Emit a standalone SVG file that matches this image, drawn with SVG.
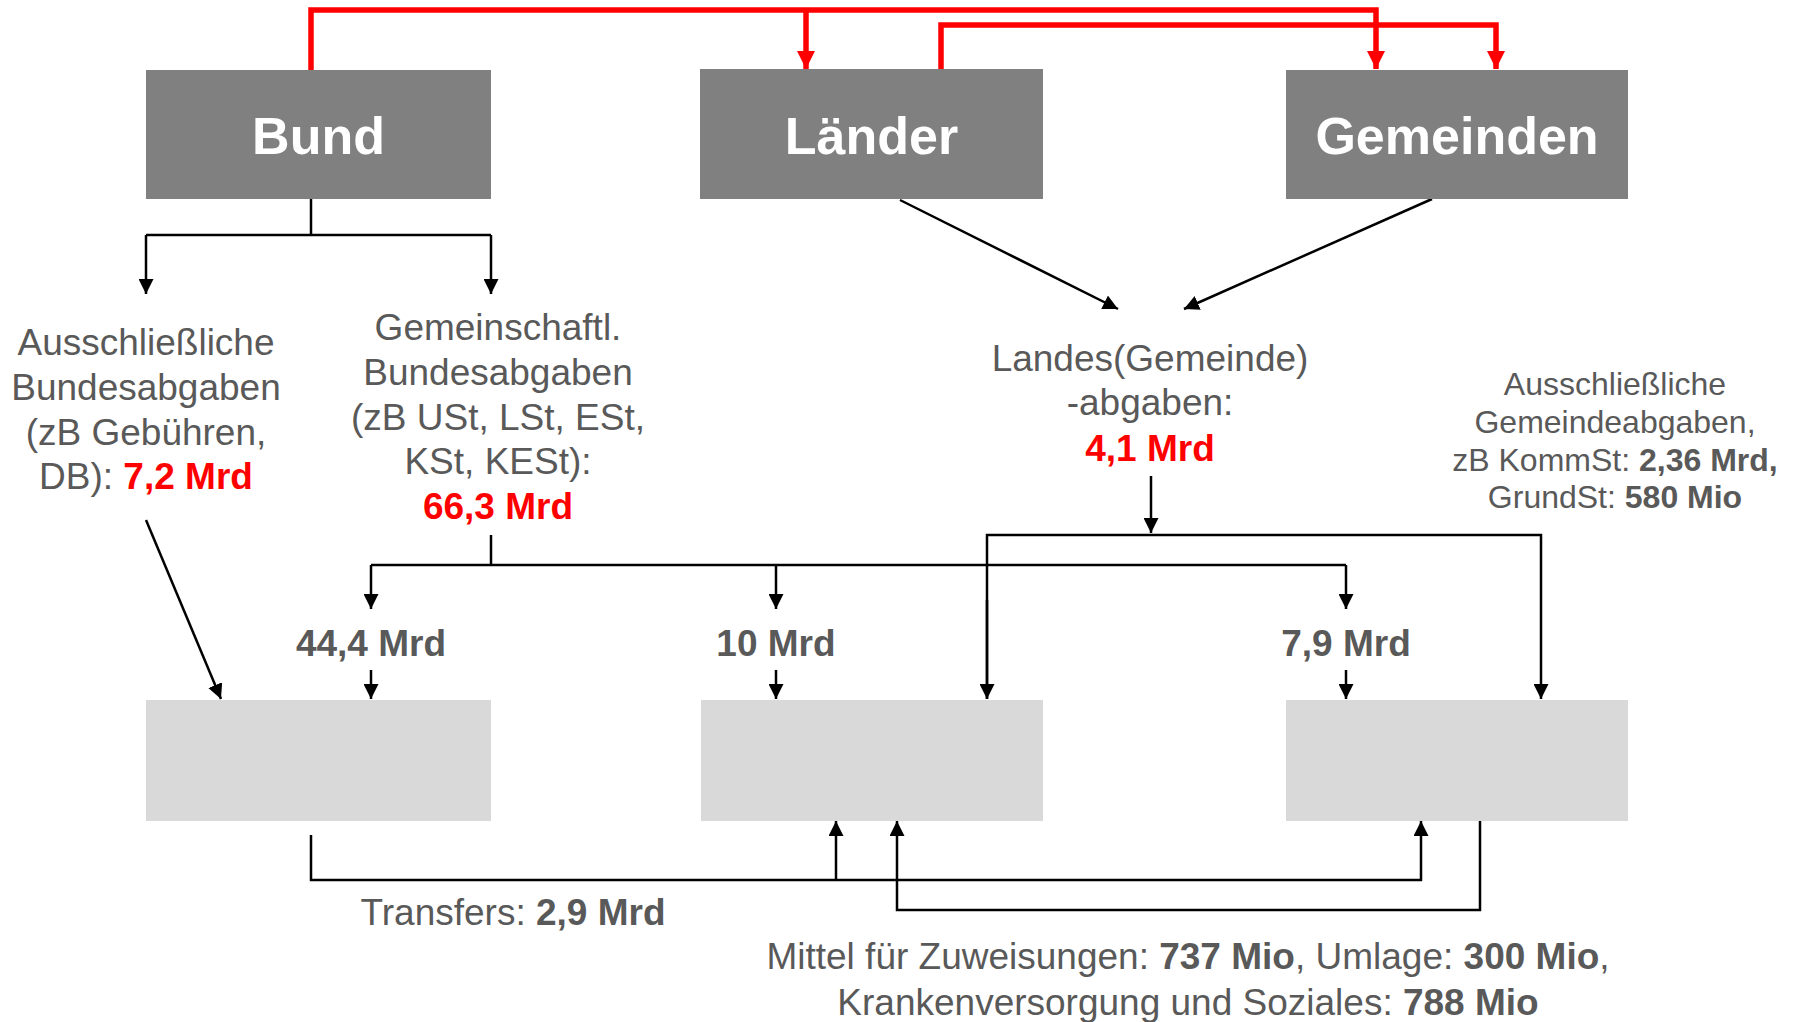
<svg xmlns="http://www.w3.org/2000/svg" width="1794" height="1022" viewBox="0 0 1794 1022">
  <style>
    .top { fill: #808080; }
    .sub { fill: #d9d9d9; }
    .title { font-family: "Liberation Sans", Arial, sans-serif; font-weight: bold; font-size: 52px; fill: #ffffff; text-anchor: middle; }
    .lbl { font-family: "Liberation Sans", Arial, sans-serif; font-size: 37px; fill: #595959; text-anchor: middle; }
    .sm { font-size: 32px; }
    .b { font-weight: bold; }
    .red { fill: #ff0000; font-weight: bold; }
    .amt { font-family: "Liberation Sans", Arial, sans-serif; font-size: 37px; font-weight: bold; fill: #595959; text-anchor: middle; }
    .ln { fill: none; stroke: #000000; stroke-width: 2.5; }
    .rl { fill: none; stroke: #ff0000; stroke-width: 5.5; }
  </style>
  <defs>
    <marker id="ah" markerUnits="userSpaceOnUse" markerWidth="15" markerHeight="15" refX="15" refY="7.5" orient="auto">
      <path d="M0,0 L15,7.5 L0,15 z" fill="#000000"/>
    </marker>
    <marker id="ahr" markerUnits="userSpaceOnUse" markerWidth="18" markerHeight="18" refX="18" refY="9" orient="auto">
      <path d="M0,0 L18,9 L0,18 z" fill="#ff0000"/>
    </marker>
  </defs>
  <rect width="1794" height="1022" fill="#ffffff"/>

  <!-- connectors -->
  <g id="connectors">
    <!-- red flows along the top -->
    <polyline class="rl" points="311,70 311,10 1376,10 1376,69" marker-end="url(#ahr)"/>
    <line class="rl" x1="806" y1="10" x2="806" y2="69" marker-end="url(#ahr)"/>
    <polyline class="rl" points="941,70 941,25 1496,25 1496,69" marker-end="url(#ahr)"/>

    <!-- Bund split -->
    <polyline class="ln" points="311,199 311,235"/>
    <polyline class="ln" points="146,235 491,235"/>
    <line class="ln" x1="146" y1="235" x2="146" y2="294" marker-end="url(#ah)"/>
    <line class="ln" x1="491" y1="235" x2="491" y2="294" marker-end="url(#ah)"/>

    <!-- Länder / Gemeinden to Landesabgaben -->
    <line class="ln" x1="900" y1="200" x2="1118" y2="309" marker-end="url(#ah)"/>
    <line class="ln" x1="1432" y1="199" x2="1184" y2="309" marker-end="url(#ah)"/>

    <!-- exclusive federal levies -->
    <line class="ln" x1="146" y1="520" x2="221" y2="699" marker-end="url(#ah)"/>

    <!-- shared federal levies split -->
    <polyline class="ln" points="491,535 491,565"/>
    <polyline class="ln" points="371,565 1346,565"/>
    <line class="ln" x1="371" y1="565" x2="371" y2="609" marker-end="url(#ah)"/>
    <line class="ln" x1="776" y1="565" x2="776" y2="609" marker-end="url(#ah)"/>
    <line class="ln" x1="1346" y1="565" x2="1346" y2="609" marker-end="url(#ah)"/>
    <line class="ln" x1="371" y1="670" x2="371" y2="699" marker-end="url(#ah)"/>
    <line class="ln" x1="776" y1="670" x2="776" y2="699" marker-end="url(#ah)"/>
    <line class="ln" x1="1346" y1="670" x2="1346" y2="699" marker-end="url(#ah)"/>

    <!-- Landesabgaben split -->
    <line class="ln" x1="1151" y1="476" x2="1151" y2="533" marker-end="url(#ah)"/>
    <polyline class="ln" points="987,699 987,535 1541,535 1541,699" marker-end="url(#ah)"/>
    <line class="ln" x1="987" y1="600" x2="987" y2="699" marker-end="url(#ah)"/>

    <!-- transfers -->
    <polyline class="ln" points="311,835 311,880 1421,880 1421,821" marker-end="url(#ah)"/>
    <line class="ln" x1="836" y1="880" x2="836" y2="821" marker-end="url(#ah)"/>
    <polyline class="ln" points="1480,821 1480,910 897,910 897,821" marker-end="url(#ah)"/>
  </g>

  <!-- top level bodies -->
  <g id="bund">
    <rect class="top" x="146" y="70" width="345" height="129"/>
    <text class="title" x="318.5" y="154">Bund</text>
  </g>
  <g id="laender">
    <rect class="top" x="700" y="69" width="343" height="130"/>
    <text class="title" x="871.5" y="154">Länder</text>
  </g>
  <g id="gemeinden">
    <rect class="top" x="1286" y="70" width="342" height="129"/>
    <text class="title" x="1457" y="154">Gemeinden</text>
  </g>

  <!-- revenue categories -->
  <g id="bundesabgaben-ausschl">
    <text class="lbl" x="146" y="355">Ausschließliche</text>
    <text class="lbl" x="146" y="400">Bundesabgaben</text>
    <text class="lbl" x="146" y="445">(zB Gebühren,</text>
    <text class="lbl" x="146" y="489">DB): <tspan class="red">7,2 Mrd</tspan></text>
  </g>
  <g id="bundesabgaben-gemeinsch">
    <text class="lbl" x="498" y="340">Gemeinschaftl.</text>
    <text class="lbl" x="498" y="385">Bundesabgaben</text>
    <text class="lbl" x="498" y="430">(zB USt, LSt, ESt,</text>
    <text class="lbl" x="498" y="474">KSt, KESt):</text>
    <text class="lbl red" x="498" y="519">66,3 Mrd</text>
  </g>
  <g id="landesabgaben">
    <text class="lbl" x="1150" y="371">Landes(Gemeinde)</text>
    <text class="lbl" x="1150" y="415">-abgaben:</text>
    <text class="lbl red" x="1150" y="461">4,1 Mrd</text>
  </g>
  <g id="gemeindeabgaben">
    <text class="lbl sm" x="1615" y="395">Ausschließliche</text>
    <text class="lbl sm" x="1615" y="433">Gemeindeabgaben,</text>
    <text class="lbl sm" x="1615" y="471">zB KommSt: <tspan class="b">2,36 Mrd,</tspan></text>
    <text class="lbl sm" x="1615" y="508">GrundSt: <tspan class="b">580 Mio</tspan></text>
  </g>

  <!-- shares -->
  <g id="anteil-bund"><text class="amt" x="371" y="656">44,4 Mrd</text></g>
  <g id="anteil-laender"><text class="amt" x="776" y="656">10 Mrd</text></g>
  <g id="anteil-gemeinden"><text class="amt" x="1346" y="656">7,9 Mrd</text></g>

  <!-- receiving bodies -->
  <g id="bund-einnahmen"><rect class="sub" x="146" y="700" width="345" height="121"/></g>
  <g id="laender-einnahmen"><rect class="sub" x="701" y="700" width="342" height="121"/></g>
  <g id="gemeinden-einnahmen"><rect class="sub" x="1286" y="700" width="342" height="121"/></g>

  <!-- transfer labels -->
  <g id="transfers">
    <text class="lbl" x="513" y="925">Transfers: <tspan class="b">2,9 Mrd</tspan></text>
  </g>
  <g id="zuweisungen">
    <text class="lbl" x="1188" y="969">Mittel für Zuweisungen: <tspan class="b">737 Mio</tspan>, Umlage: <tspan class="b">300 Mio</tspan>,</text>
    <text class="lbl" x="1188" y="1015">Krankenversorgung und Soziales: <tspan class="b">788 Mio</tspan></text>
  </g>
</svg>
